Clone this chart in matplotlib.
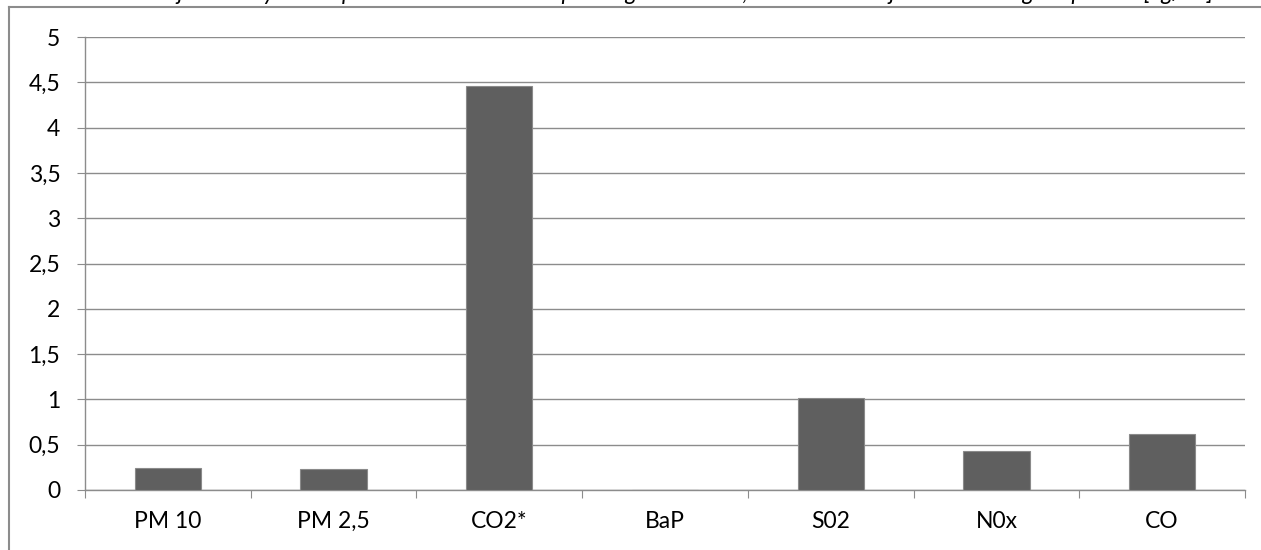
import matplotlib
matplotlib.use("Agg")
import matplotlib.pyplot as plt
import numpy as np
from matplotlib.lines import Line2D

# ====== DATA ======
categories = ["PM 10", "PM 2,5", "CO2*", "BaP", "S02", "N0x", "CO"]
values = [0.245, 0.235, 4.46, 0.0, 1.01, 0.43, 0.615]
y_ticks = [0, 0.5, 1, 1.5, 2, 2.5, 3, 3.5, 4, 4.5, 5]
y_labels = ["0", "0,5", "1", "1,5", "2", "2,5", "3", "3,5", "4", "4,5", "5"]
title = ("Wskaźniki emisji zanieczyszczeń powietrza z kotła c.o. opalanego drewnem, "
         "odniesione do jednostki energii w paliwie [kg/GJ]")

plt.rcParams["font.family"] = ["Lato", "DejaVu Sans"]

grid_col = "#8c8c8c"
bar_col = "#5f5f5f"
font_size = 16.5

fig = plt.figure(figsize=(12.61, 5.5), dpi=100)
ax = fig.add_axes([0.0674, 0.1091, 0.9199, 0.8236])

x = np.arange(len(categories))
ax.bar(x, values, width=0.4, color=bar_col, edgecolor="#8a8a8a", linewidth=0.8, zorder=3)

ax.set_xlim(-0.5, len(categories) - 0.5)
ax.set_ylim(0, 5)

# y axis
ax.set_yticks(y_ticks)
ax.set_yticklabels(y_labels, fontsize=font_size)
ax.yaxis.grid(True, color=grid_col, linewidth=1.0, zorder=0)
ax.tick_params(axis="y", length=5.8, color=grid_col, pad=12)

# x axis: ticks between categories, labels centred
ax.set_xticks(np.arange(-0.5, len(categories)), labels=[""] * (len(categories) + 1))
ax.set_xticks(x, labels=categories, minor=True)
ax.tick_params(axis="x", which="major", length=5.8, color=grid_col)
ax.tick_params(axis="x", which="minor", length=0, labelsize=font_size, pad=15)

for side in ["top", "right"]:
    ax.spines[side].set_visible(False)
for side in ["left", "bottom"]:
    ax.spines[side].set_color(grid_col)
    ax.spines[side].set_linewidth(1.0)

# outer chart frame (left and top edges visible)
fig.add_artist(Line2D([0.0075, 0.0075], [0, 0.987], color="#8c8c8c", lw=1.5, transform=fig.transFigure))
fig.add_artist(Line2D([0.0075, 1.0], [0.987, 0.987], color="#8c8c8c", lw=1.5, transform=fig.transFigure))

# title mostly cut off at the top edge, as in the source image
fig.text(0.494, 0.993, title, ha="center", va="bottom", fontsize=font_size, style="italic")

fig.savefig("out.png", dpi=100)
